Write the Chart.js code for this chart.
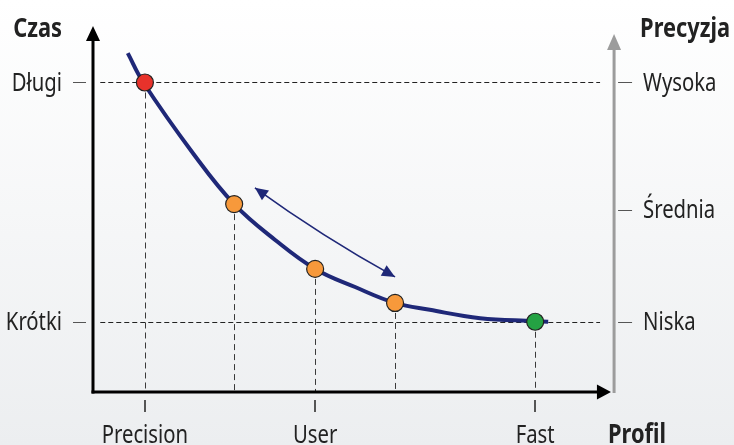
<!DOCTYPE html>
<html>
<head>
<meta charset="utf-8">
<script src="https://cdn.jsdelivr.net/npm/chart.js@4"></script>
<style>
  html, body { margin: 0; padding: 0; }
  body { width: 734px; height: 445px; background: linear-gradient(#ffffff, #eceef0); }
  canvas { display: block; }
</style>
</head>
<body>
<canvas id="profileChart" width="734" height="445"></canvas>
<script>
// curve: time vs profile (scale units 0..100)
const curveX = [6.7, 9.7, 19.3, 27.2, 35.1, 42.8, 50.5, 58.2, 64.9, 74.6, 85.2, 87.7];
const curveY = [93.6, 85.5, 65.9, 51.9, 42.0, 34.0, 29.0, 24.6, 22.7, 20.4, 19.6, 19.4];

// marked profiles on the curve
const markerX = [10, 27.2, 42.8, 58.2, 85.2];
const markerY = [85.5, 51.9, 34.0, 24.6, 19.4];
const markerColors = ['#e8322b', '#f7993b', '#f7993b', '#f7993b', '#24a243'];

// axis ticks
const timeLabels = ['Długi', 'Krótki'];
const timeValues = [85.5, 19.4];
const precisionLabels = ['Wysoka', 'Średnia', 'Niska'];
const precisionValues = [85.5, 50.3, 19.4];
const profileLabels = ['Precision', 'User', 'Fast'];
const profileValues = [10, 42.8, 85.2];

// double arrow between the user profiles: start, control, end
const arrowX = [31.2, 44.0, 58.2];
const arrowY = [56.4, 43.1, 31.8];

const NAVY = '#1f2878';

function arrowHead(ctx, x, y, ang, len, half) {
    ctx.beginPath();
    ctx.moveTo(x, y);
    ctx.lineTo(x - len * Math.cos(ang) + half * Math.sin(ang), y - len * Math.sin(ang) - half * Math.cos(ang));
    ctx.lineTo(x - len * Math.cos(ang) - half * Math.sin(ang), y - len * Math.sin(ang) + half * Math.cos(ang));
    ctx.closePath();
    ctx.fill();
}

// squeeze text horizontally so it looks condensed
function drawText(ctx, text, x, y, align, bold) {
    const sx = bold ? 0.84 : 0.78;
    ctx.save();
    ctx.font = (bold ? 'bold ' : '') + '26px "Noto Sans", sans-serif';
    ctx.textAlign = 'left';
    ctx.textBaseline = 'alphabetic';
    const w = ctx.measureText(text).width * sx;
    let left = x;
    if (align === 'right') left = x - w;
    if (align === 'center') left = x - w / 2;
    ctx.translate(left, y);
    ctx.scale(sx, 1);
    ctx.fillText(text, 0, 0);
    ctx.restore();
}

const guides = {
    id: 'guides',
    beforeDatasetsDraw(chart) {
        const ctx = chart.ctx;
        const xs = chart.scales.x, ys = chart.scales.y;
        ctx.save();
        ctx.lineWidth = 1;
        ctx.setLineDash([5, 3]);
        ctx.strokeStyle = '#222';
        timeValues.forEach(v => {
            const py = Math.round(ys.getPixelForValue(v)) + 0.5;
            ctx.beginPath();
            ctx.moveTo(xs.getPixelForValue(1.4), py);
            ctx.lineTo(xs.getPixelForValue(97.7), py);
            ctx.stroke();
        });
        ctx.strokeStyle = '#3a3a3a';
        ctx.setLineDash([6, 4]);
        markerX.forEach((v, i) => {
            const px = Math.round(xs.getPixelForValue(v)) + 0.5;
            ctx.beginPath();
            ctx.moveTo(px, ys.getPixelForValue(markerY[i]));
            ctx.lineTo(px, ys.getPixelForValue(0));
            ctx.stroke();
        });
        ctx.restore();
    },
    afterDraw(chart) {
        const ctx = chart.ctx;
        const xs = chart.scales.x, ys = chart.scales.y;
        const x0 = xs.getPixelForValue(0), y0 = ys.getPixelForValue(0);
        const xr = xs.getPixelForValue(100.4);
        ctx.save();

        // left axis (time)
        ctx.fillStyle = '#000';
        ctx.fillRect(x0 - 1.5, ys.getPixelForValue(99), 3, y0 - ys.getPixelForValue(99) + 1.5);
        arrowHead(ctx, x0, ys.getPixelForValue(101.1), -Math.PI / 2, 15, 7);
        // bottom axis (profile)
        ctx.fillRect(x0 - 1.5, y0 - 1.5, xs.getPixelForValue(97.8) - x0, 3);
        arrowHead(ctx, xs.getPixelForValue(99.8), y0, 0, 14, 7.5);
        // right axis (precision)
        ctx.fillStyle = '#9c9c9c';
        ctx.fillRect(xr - 1.5, ys.getPixelForValue(96), 3, y0 - ys.getPixelForValue(96) + 1);
        arrowHead(ctx, xr, ys.getPixelForValue(98.9), -Math.PI / 2, 16, 7);

        // tick marks
        ctx.strokeStyle = '#555';
        ctx.lineWidth = 1;
        timeValues.forEach(v => {
            const py = Math.round(ys.getPixelForValue(v)) + 0.5;
            ctx.beginPath(); ctx.moveTo(x0 - 20, py); ctx.lineTo(x0 - 7, py); ctx.stroke();
        });
        precisionValues.forEach(v => {
            const py = Math.round(ys.getPixelForValue(v)) + 0.5;
            ctx.beginPath(); ctx.moveTo(xr + 4, py); ctx.lineTo(xr + 18, py); ctx.stroke();
        });
        ctx.lineWidth = 2;
        profileValues.forEach(v => {
            const px = Math.round(xs.getPixelForValue(v));
            ctx.beginPath(); ctx.moveTo(px, y0 + 8); ctx.lineTo(px, y0 + 20); ctx.stroke();
        });

        // labels
        ctx.fillStyle = '#222';
        timeLabels.forEach((t, i) => drawText(ctx, t, 62, ys.getPixelForValue(timeValues[i]) + 8.5, 'right'));
        precisionLabels.forEach((t, i) => drawText(ctx, t, xr + 29, ys.getPixelForValue(precisionValues[i]) + 8.5, 'left'));
        profileLabels.forEach((t, i) => drawText(ctx, t, xs.getPixelForValue(profileValues[i]), y0 + 51, 'center'));
        drawText(ctx, 'Czas', 62, 37, 'right', true);
        drawText(ctx, 'Precyzja', xr + 26, 37, 'left', true);
        drawText(ctx, 'Profil', 608, y0 + 51, 'left', true);

        // double arrow
        const ax = arrowX.map(v => xs.getPixelForValue(v));
        const ay = arrowY.map(v => ys.getPixelForValue(v));
        ctx.strokeStyle = NAVY;
        ctx.fillStyle = NAVY;
        ctx.lineWidth = 1.6;
        ctx.beginPath();
        ctx.moveTo(ax[0], ay[0]);
        ctx.quadraticCurveTo(ax[1], ay[1], ax[2], ay[2]);
        ctx.stroke();
        arrowHead(ctx, ax[0], ay[0], Math.atan2(ay[0] - ay[1], ax[0] - ax[1]), 13, 6);
        arrowHead(ctx, ax[2], ay[2], Math.atan2(ay[2] - ay[1], ax[2] - ax[1]), 13, 6);
        ctx.restore();
    }
};

new Chart(document.getElementById('profileChart'), {
    type: 'scatter',
    data: {
        datasets: [{
            data: markerX.map((x, i) => ({ x: x, y: markerY[i] })),
            pointRadius: 8.5,
            pointBackgroundColor: markerColors,
            pointBorderColor: '#222',
            pointBorderWidth: 1.2,
            order: 0
        }, {
            data: curveX.map((x, i) => ({ x: x, y: curveY[i] })),
            showLine: true,
            borderColor: NAVY,
            borderWidth: 4,
            tension: 0.4,
            pointRadius: 0,
            order: 1
        }]
    },
    options: {
        responsive: false,
        animation: false,
        layout: { padding: { left: 93, right: 122, top: 30, bottom: 53 } },
        scales: {
            x: { display: false, min: 0, max: 100 },
            y: { display: false, min: 0, max: 100 }
        },
        plugins: { legend: { display: false }, tooltip: { enabled: false } }
    },
    plugins: [guides]
});
</script>
</body>
</html>
